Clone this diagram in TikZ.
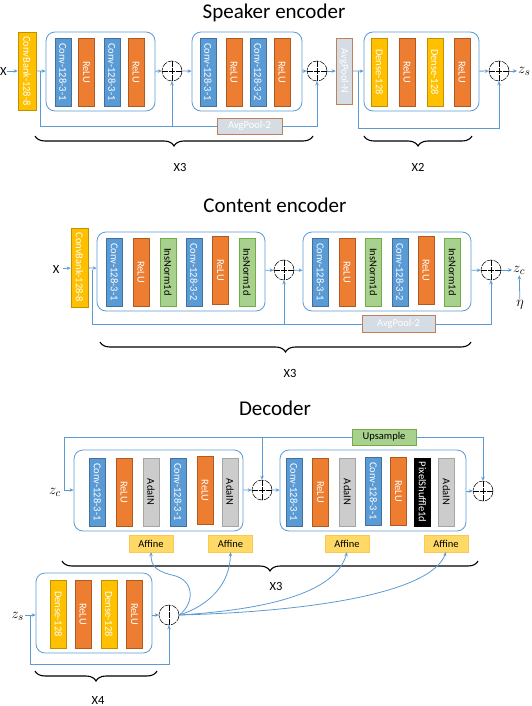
\documentclass[tikz,border=0pt]{standalone}
\usepackage{fontspec}
\setmainfont{Carlito}
\usepackage{graphicx}
\usetikzlibrary{arrows.meta,decorations.pathreplacing,calc}
\definecolor{lblue}{HTML}{5B9BD5}
\definecolor{cblue}{HTML}{5B9BD5}
\definecolor{cblueD}{HTML}{41719C}
\definecolor{corange}{HTML}{ED7D31}
\definecolor{corangeD}{HTML}{AE5A21}
\definecolor{cyellow}{HTML}{FFC000}
\definecolor{cyellowD}{HTML}{BF9000}
\definecolor{cgreen}{HTML}{A9D18E}
\definecolor{cgreenD}{HTML}{70AD47}
\definecolor{cgray}{HTML}{CCCCCC}
\definecolor{cgrayD}{HTML}{A5A5A5}
\definecolor{cpool}{HTML}{D6DCE4}
\definecolor{cpoolD}{HTML}{C0805A}
\definecolor{caff}{HTML}{FFD966}
\begin{document}
\begin{tikzpicture}[x=1pt,y=-1pt,
  ln/.style={draw=lblue, line width=0.8pt},
  arr/.style={ln, -{Stealth[length=4pt,width=3.5pt]}},
  blk/.style={draw=lblue, line width=0.8pt, rounded corners=9pt, inner sep=0pt},
  bar/.style={inner sep=0pt, line width=0.6pt, minimum width=16pt, minimum height=68pt, font=\fontsize{10.5}{10.5}\selectfont},
  conv/.style={bar, fill=cblue, draw=cblueD, text=white},
  relu/.style={bar, fill=corange, draw=corangeD, text=white},
  dense/.style={bar, fill=cyellow, draw=cyellowD, text=white},
  insn/.style={bar, fill=cgreen, draw=cgreenD, text=black},
  adain/.style={bar, fill=cgray, draw=cgrayD, text=black},
  pix/.style={bar, fill=black, draw=black, text=white},
  pool/.style={bar, fill=cpool, draw=cpoolD, text=white},
  aff/.style={inner sep=0pt, fill=caff, draw=caff!80!orange, line width=0.4pt, minimum width=44pt, minimum height=17pt, font=\fontsize{10.5}{10.5}\selectfont},
  ups/.style={inner sep=0pt, fill=cgreen, draw=cgreenD, line width=0.6pt, minimum width=64pt, minimum height=16pt, font=\fontsize{10.5}{10.5}\selectfont},
  plus/.style={circle, draw=black, line width=0.5pt, dash pattern=on 6pt off 1pt, minimum size=20pt, inner sep=0pt,
    path picture={\draw[black,line width=0.5pt] (path picture bounding box.north) -- (path picture bounding box.south) (path picture bounding box.west) -- (path picture bounding box.east);}},
  vplus/.style={circle, draw=black, line width=0.5pt, dash pattern=on 6pt off 1pt, minimum size=20pt, inner sep=0pt,
    path picture={\draw[black,line width=0.6pt] (path picture bounding box.north) -- (path picture bounding box.south);}},
  title/.style={font=\fontsize{21}{21}\selectfont},
  lab/.style={font=\fontsize{12.5}{12.5}\selectfont},
  mth/.style={inner sep=1pt, font=\fontsize{15}{15}\selectfont},
  brc/.style={decorate, decoration={brace, mirror, amplitude=10pt}, line width=1.1pt, black}
]
\useasboundingbox (0,0) rectangle (532,706);

% ================= Speaker encoder =================
\node[title] (tS) at (274,13) {Speaker encoder};
\node[lab, anchor=west, inner sep=0pt] (sX) at (0,71) {X};
\node[dense, minimum width=18pt, minimum height=78pt] (sCB) at (27,71) {\rotatebox{-90}{ConvBank-128-8}};
\node[blk, minimum width=109pt, minimum height=79pt] (sB1) at (100.5,71.5) {};
\node[conv] (s1a) at (63,72) {\rotatebox{-90}{Conv-128-3-1}};
\node[relu] (s1b) at (86.5,72) {\rotatebox{-90}{ReLU}};
\node[conv] (s1c) at (112,72) {\rotatebox{-90}{Conv-128-3-1}};
\node[relu] (s1d) at (136,72) {\rotatebox{-90}{ReLU}};
\node[plus] (sP1) at (172,71) {};
\node[blk, minimum width=110pt, minimum height=79pt] (sB2) at (247,71.5) {};
\node[conv] (s2a) at (208,72) {\rotatebox{-90}{Conv-128-3-1}};
\node[relu] (s2b) at (234,72) {\rotatebox{-90}{ReLU}};
\node[conv] (s2c) at (258,72) {\rotatebox{-90}{Conv-128-3-2}};
\node[relu] (s2d) at (282,72) {\rotatebox{-90}{ReLU}};
\node[plus] (sP2) at (317,71) {};
\node[pool, minimum height=66pt] (sAPN) at (344,71) {\rotatebox{-90}{AvgPool-N}};
\node[blk, minimum width=115pt, minimum height=79pt] (sB3) at (421.5,71.5) {};
\node[dense] (s3a) at (379.5,72) {\rotatebox{-90}{Dense-128}};
\node[relu] (s3b) at (407,72) {\rotatebox{-90}{ReLU}};
\node[dense] (s3c) at (435,72) {\rotatebox{-90}{Dense-128}};
\node[relu] (s3d) at (462,72) {\rotatebox{-90}{ReLU}};
\node[plus] (sP3) at (499,71) {};
\node[mth, anchor=west] (zs1) at (517,71) {$z_s$};
\node[pool, minimum width=65pt, minimum height=16pt] (sAP2) at (249.5,126) {AvgPool-2};

\coordinate (sj1) at (40,71);
\coordinate (sj2) at (358,71);
\draw[arr] (sX) -- (sCB);
\draw[arr] (sCB) -- (sB1);
\draw[arr] (sB1) -- (sP1);
\draw[arr] (sP1) -- (sB2);
\draw[arr] (sB2) -- (sP2);
\draw[arr] (sP2) -- (sAPN);
\draw[arr] (sAPN) -- (sB3);
\draw[arr] (sB3) -- (sP3);
\draw[arr] (sP3) -- (zs1);
\draw[ln] (sj1) |- (sAP2.west);
\draw[arr] (sP1 |- sAP2) -- (sP1.south);
\draw[arr] (sAP2.east) -| (sP2.south);
\draw[arr] (sj2) |- ($(sP3)+(0,57)$) -- (sP3.south);

\draw[brc] (35,136) -- (313,136);
\node[lab] (sx3) at (180,167) {X3};
\draw[brc] (364,136) -- (472,136);
\node[lab] (sx2) at (418,167) {X2};

% ================= Content encoder =================
\node[title] (tC) at (275,205) {Content encoder};
\node[lab] (cX) at (56,269) {X};
\node[dense, minimum width=17pt, minimum height=79pt] (cCB) at (79.5,267.5) {\rotatebox{-90}{ConvBank-128-8}};
\node[blk, minimum width=168pt, minimum height=79pt] (cB1) at (181,271.5) {};
\node[conv] (c1a) at (114.5,272) {\rotatebox{-90}{Conv-128-3-1}};
\node[relu] (c1b) at (141,272) {\rotatebox{-90}{ReLU}};
\node[insn] (c1c) at (168,272) {\rotatebox{-90}{InsNorm1d}};
\node[conv] (c1d) at (194,272) {\rotatebox{-90}{Conv-128-3-2}};
\node[relu] (c1e) at (220.5,270) {\rotatebox{-90}{ReLU}};
\node[insn] (c1f) at (247,272) {\rotatebox{-90}{InsNorm1d}};
\node[plus] (cP1) at (284,270) {};
\node[blk, minimum width=168pt, minimum height=79pt] (cB2) at (387,271.5) {};
\node[conv] (c2a) at (320.5,272) {\rotatebox{-90}{Conv-128-3-1}};
\node[relu] (c2b) at (347,272) {\rotatebox{-90}{ReLU}};
\node[insn] (c2c) at (373.5,272) {\rotatebox{-90}{InsNorm1d}};
\node[conv] (c2d) at (400,272) {\rotatebox{-90}{Conv-128-3-2}};
\node[relu] (c2e) at (426,270) {\rotatebox{-90}{ReLU}};
\node[insn] (c2f) at (452.5,272) {\rotatebox{-90}{InsNorm1d}};
\node[plus] (cP2) at (491,270) {};
\node[mth, anchor=west] (zc1) at (512,270) {$z_c$};
\node[mth] (eta) at (520,305) {$\eta$};
\node[pool, minimum width=73pt, minimum height=17pt] (cAP) at (398.5,324) {AvgPool-2};

\coordinate (cj1) at (92,270);
\draw[arr] (cX) -- (cCB);
\draw[arr] (cCB) -- (cB1);
\draw[arr] (cB1) -- (cP1);
\draw[arr] (cP1) -- (cB2);
\draw[arr] (cB2) -- (cP2);
\draw[arr] (cP2) -- (zc1);
\draw[arr] (eta) -- (zc1);
\draw[ln] (cj1) |- (cAP.west);
\draw[arr] (cP1 |- cAP) -- (cP1.south);
\draw[arr] (cAP.east) -| (cP2.south);

\draw[brc] (100,342) -- (471,342);
\node[lab] (cx3) at (290,373) {X3};

% ================= Decoder =================
\node[title] (tD) at (275,408) {Decoder};
\node[mth, anchor=east] (zc2) at (62,492) {$z_c$};
\node[blk, minimum width=169pt, minimum height=81pt] (dB1) at (158.5,490.5) {};
\node[conv] (d1a) at (97.5,492) {\rotatebox{-90}{Conv-128-3-1}};
\node[relu] (d1b) at (124,492) {\rotatebox{-90}{ReLU}};
\node[adain] (d1c) at (151,492) {\rotatebox{-90}{AdaIN}};
\node[conv] (d1d) at (178,492) {\rotatebox{-90}{Conv-128-3-1}};
\node[relu] (d1e) at (205,490.5) {\rotatebox{-90}{ReLU}};
\node[adain] (d1f) at (230,492) {\rotatebox{-90}{AdaIN}};
\node[plus] (dP1) at (262,490) {};
\node[blk, minimum width=186pt, minimum height=81pt] (dB2) at (373,490.5) {};
\node[conv] (d2a) at (294,492) {\rotatebox{-90}{Conv-128-3-1}};
\node[relu] (d2b) at (320.5,492) {\rotatebox{-90}{ReLU}};
\node[adain] (d2c) at (347.5,492) {\rotatebox{-90}{AdaIN}};
\node[conv] (d2d) at (373.5,491) {\rotatebox{-90}{Conv-128-3-1}};
\node[relu] (d2e) at (398.5,491) {\rotatebox{-90}{ReLU}};
\node[pix] (d2f) at (422.5,492) {\rotatebox{-90}{PixelShuffle1d}};
\node[adain] (d2g) at (446.5,492) {\rotatebox{-90}{AdaIN}};
\node[plus] (dP2) at (483,491) {};
\node[ups] (dUp) at (384,437) {Upsample};
\node[aff] (A1) at (151,543.5) {Affine};
\node[aff] (A2) at (230.5,543.5) {Affine};
\node[aff] (A3) at (347,543.5) {Affine};
\node[aff] (A4) at (446,543.5) {Affine};

\coordinate (dj1) at (64,490);
\draw[arr] (dj1) -- (dB1.west |- dj1);
\draw[arr] (dB1) -- (dP1);
\draw[arr] (dP1) -- (dB2);
\draw[arr] (dB2.east |- dP2) -- (dP2);
\draw[ln] (dj1) |- (dUp.west);
\draw[arr] (dP1 |- dUp) -- (dP1.north);
\draw[arr] (dUp.east) -| (dP2.north);

\draw[brc] (62,561) -- (478,561);
\node[lab] (dx3) at (276,586) {X3};

% ================= Bottom (speaker MLP) =================
\node[mth, anchor=east] (zs2) at (25,616) {$z_s$};
\node[blk, minimum width=116pt, minimum height=80pt] (bB) at (94,613) {};
\node[dense] (b1) at (58.5,614) {\rotatebox{-90}{Dense-128}};
\node[relu] (b2) at (83,614) {\rotatebox{-90}{ReLU}};
\node[dense] (b3) at (109,614) {\rotatebox{-90}{Dense-128}};
\node[relu] (b4) at (134.5,614) {\rotatebox{-90}{ReLU}};
\node[vplus] (bP) at (169,615) {};

\coordinate (bj1) at (30,615);
\draw[arr] (zs2.east |- bj1) -- (bB.west |- bj1);
\draw[arr] (bB.east |- bP) -- (bP);
\draw[arr] (bj1) |- (169,664) -- (bP.south);

\draw[arr] (bP.east) .. controls (194,604) and (196,580) .. (172,575) .. controls (155,571) and (151,565) .. (A1.south);
\draw[arr] (bP.east) .. controls (208,606) and (230,585) .. (A2.south);
\draw[arr] (bP.east) .. controls (260,610) and (335,595) .. (A3.south);
\draw[arr] (bP.east) .. controls (300,612) and (430,595) .. (A4.south);

\draw[brc] (35,671) -- (157,671);
\node[lab] (bx4) at (98,700) {X4};
\end{tikzpicture}
\end{document}
